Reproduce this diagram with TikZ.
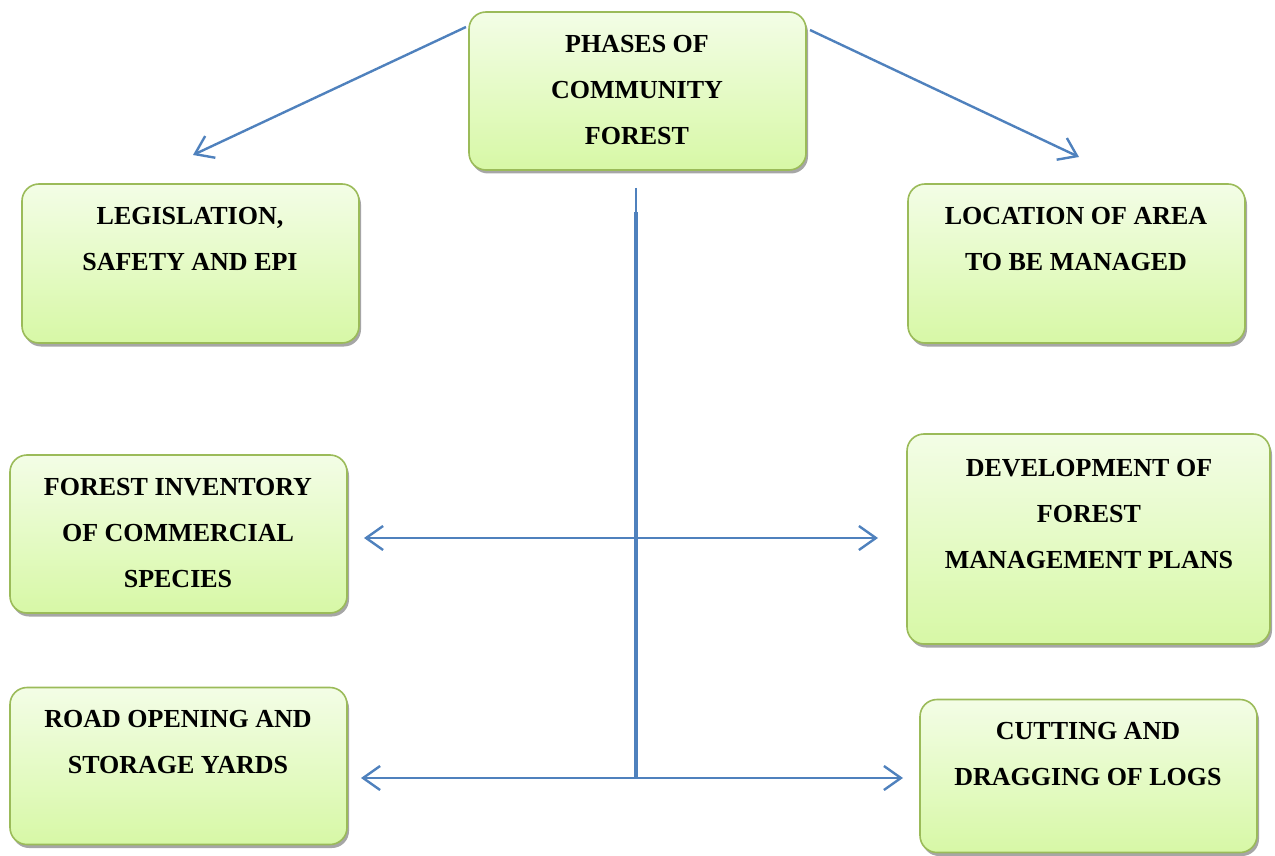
\documentclass[tikz,border=0pt]{standalone}
\usepackage{fontspec}
\setmainfont{Liberation Serif}
\usetikzlibrary{arrows.meta,shadows}
\definecolor{boxborder}{HTML}{9BBB59}
\definecolor{boxtop}{HTML}{F3FDE6}
\definecolor{boxbot}{HTML}{D7F8A6}
\definecolor{linkblue}{HTML}{4F81BD}
\definecolor{shadowgray}{HTML}{A6A6A6}
\begin{document}
\begin{tikzpicture}[x=1pt,y=-1pt,
  box/.style={draw=boxborder, line width=1.6pt, rounded corners=17pt,
    top color=boxtop, bottom color=boxbot, inner sep=0pt,
    drop shadow={shadow xshift=2pt, shadow yshift=-3.5pt, fill=shadowgray, opacity=1}},
  txt/.style={align=center, font=\bfseries\fontsize{26}{46}\selectfont, inner sep=0pt},
  link/.style={draw=linkblue, line width=2.4pt},
  tip/.style={-{Straight Barb[length=17pt,width=24pt,line width=2.4pt]}},
  tips/.style={{Straight Barb[length=17pt,width=24pt,line width=2.4pt]}-{Straight Barb[length=17pt,width=24pt,line width=2.4pt]}}
]
\useasboundingbox (0,0) rectangle (1275,856);

% boxes
\node[box, minimum width=337pt, minimum height=158pt] (top) at (637.5,91) {};
\node[box, minimum width=337pt, minimum height=159pt] (leg) at (190.5,263.5) {};
\node[box, minimum width=337pt, minimum height=159pt] (loc) at (1076.5,263.5) {};
\node[box, minimum width=337pt, minimum height=158pt] (inv) at (178.5,534) {};
\node[box, minimum width=363pt, minimum height=210pt] (dev) at (1088.5,539) {};
\node[box, minimum width=337pt, minimum height=157pt] (road) at (178.5,766) {};
\node[box, minimum width=337pt, minimum height=153pt] (cut) at (1088.5,776) {};

% texts
\node[txt] (topT) at (637,90) {PHASES OF\\COMMUNITY\\FOREST};
\node[txt] (legT) at (190,239.5) {LEGISLATION,\\SAFETY AND EPI};
\node[txt] (locT) at (1076,239.5) {LOCATION OF AREA\\TO BE MANAGED};
\node[txt] (invT) at (178,533) {FOREST INVENTORY\\OF COMMERCIAL\\SPECIES};
\node[txt] (devT) at (1089,514) {DEVELOPMENT OF\\FOREST\\MANAGEMENT PLANS};
\node[txt] (roadT) at (178,742.5) {ROAD OPENING AND\\STORAGE YARDS};
\node[txt] (cutT) at (1088,754) {CUTTING AND\\DRAGGING OF LOGS};

% connector points
\coordinate (dl0) at (466,27);
\coordinate (dl1) at (193,155);
\coordinate (dr0) at (810,30);
\coordinate (dr1) at (1079,157);
\coordinate (v0) at (636,188);
\coordinate (v1) at (636,212);
\coordinate (v2) at (636,779);
\coordinate (hl1) at (364,538);
\coordinate (hr1) at (878,538);
\coordinate (hl2) at (361,778);
\coordinate (hr2) at (903,778);

\draw[link, tip] (dl0) -- (dl1);
\draw[link, tip] (dr0) -- (dr1);
\draw[link, line width=2pt] (v0) -- (v1);
\draw[link, line width=3.6pt] (v1) -- (v2);
\draw[link, tips] (hl1) -- (hr1);
\draw[link, tips] (hl2) -- (hr2);
\end{tikzpicture}
\end{document}
